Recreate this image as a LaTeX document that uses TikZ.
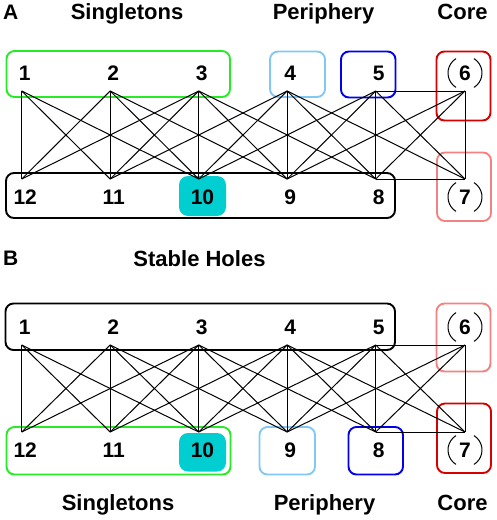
\documentclass[tikz,border=0pt]{standalone}
\usepackage{fontspec}
\setmainfont{Liberation Sans}
\definecolor{cgreen}{RGB}{40,235,40}
\definecolor{clblue}{RGB}{130,200,245}
\definecolor{cblue}{RGB}{0,0,235}
\definecolor{cred}{RGB}{215,0,0}
\definecolor{cpink}{RGB}{245,130,130}
\definecolor{cteal}{RGB}{0,206,209}
\begin{document}
\begin{tikzpicture}[x=1pt,y=-1pt,
  edge/.style={line width=1pt, black},
  grp/.style={rounded corners=8pt, line width=1.9pt},
  tealbox/.style={fill=cteal, rounded corners=9pt},
  num/.style={font=\fontsize{21}{25}\selectfont\bfseries, inner sep=0pt, anchor=center},
  ttl/.style={font=\fontsize{22}{26}\selectfont\bfseries, inner sep=0pt, anchor=base},
  pnl/.style={font=\fontsize{21}{25}\selectfont\bfseries, inner sep=0pt, anchor=base west},
  ring/.style={line width=1pt, black}]
\useasboundingbox (0,0) rectangle (496,520);

% ---------- Panel A boxes ----------
\fill[tealbox] (179,176) rectangle (226,216);
\draw[grp, cgreen] (6.5,51) rectangle (230,97);
\draw[grp, clblue] (270,51.5) rectangle (325,97);
\draw[grp, cblue] (341,51.5) rectangle (395.5,97.5);
\draw[grp, cred] (436.5,51.5) rectangle (490.5,120.5);
\draw[grp, cpink] (437,152.5) rectangle (491,221);
\draw[grp, black] (6,173) rectangle (395,218);

% ---------- Panel B boxes ----------
\fill[tealbox] (179,433) rectangle (226,471.5);
\draw[grp, black] (5.5,303.5) rectangle (395,350);
\draw[grp, cpink] (436.5,303.5) rectangle (490.5,371.5);
\draw[grp, cred] (437,403.5) rectangle (491,473);
\draw[grp, cgreen] (6.5,427) rectangle (230.5,474.5);
\draw[grp, clblue] (259.5,427) rectangle (315,474.5);
\draw[grp, cblue] (348.5,427) rectangle (403,474.5);

% ---------- vertices ----------
\foreach \i/\x in {1/21.7,2/110.2,3/198.7,4/287.2,5/375.7,6/465}{
  \coordinate (a\i) at (\x,91);
  \coordinate (b\i) at (\x,345);
}
\foreach \i/\x in {12/21.7,11/110.2,10/198.7,9/287.2,8/375.7,7/465}{
  \coordinate (a\i) at (\x,179);
  \coordinate (b\i) at (\x,432);
}

% ---------- edges ----------
\foreach \s/\t in {1/12,1/11,1/10,2/12,2/11,2/10,2/9,3/12,3/11,3/10,3/9,3/8,
                   4/11,4/10,4/9,4/8,4/7,5/10,5/9,5/8,5/7,6/9,6/8,6/7,5/6,8/7}{
  \draw[edge] (a\s) -- (a\t);
  \draw[edge] (b\s) -- (b\t);
}

% ---------- labels ----------
\foreach \i/\x in {1/24.7,2/113.2,3/201.7,4/290.2,5/378.7,6/465}{
  \node[num] (la\i) at (\x,73) {\i};
  \node[num] (lb\i) at (\x,327) {\i};
}
\foreach \i/\x in {12/25.2,11/113.7,10/202.5,9/290.2,8/378.7,7/465}{
  \node[num] (la\i) at (\x,197) {\i};
  \node[num] (lb\i) at (\x,450) {\i};
}

% rings around 6 and 7
\foreach \n in {la6,la7,lb6,lb7}{
  \draw[ring] (\n.center) ++(58:17) arc (58:-58:17);
  \draw[ring] (\n.center) ++(122:17) arc (122:238:17);
}

% ---------- titles ----------
\node[pnl] (tA) at (3,19.5) {A};
\node[ttl] (tAs) at (127,19) {Singletons};
\node[ttl] (tAp) at (323.5,19) {Periphery};
\node[ttl] (tAc) at (462.5,19) {Core};
\node[pnl] (tB) at (3,265) {B};
\node[ttl] (tBh) at (199.5,266.5) {Stable Holes};
\node[ttl] (tBs) at (118,510) {Singletons};
\node[ttl] (tBp) at (324.5,510) {Periphery};
\node[ttl] (tBc) at (462.5,510) {Core};
\end{tikzpicture}
\end{document}
